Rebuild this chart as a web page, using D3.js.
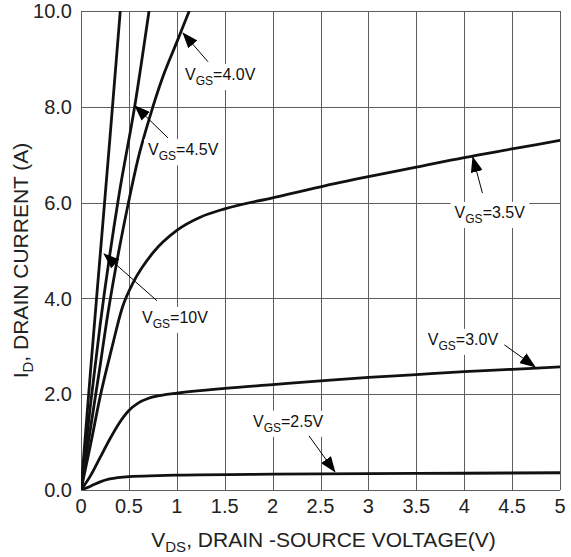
<!DOCTYPE html>
<html>
<head>
<meta charset="utf-8">
<script src="https://cdn.jsdelivr.net/npm/d3@7"></script>
<style>
  body { margin: 0; background: #fff; }
  svg { display: block; font-family: "Liberation Sans", Arial, sans-serif; }
</style>
</head>
<body>
<script>
// tick values / labels
const xTicks = [0, 0.5, 1, 1.5, 2, 2.5, 3, 3.5, 4, 4.5, 5]
const xTickLabels = ["0", "0.5", "1", "1.5", "2", "2.5", "3", "3.5", "4", "4.5", "5"]
const yTicks = [0, 2, 4, 6, 8, 10]
const yTickLabels = ["0.0", "2.0", "4.0", "6.0", "8.0", "10.0"]

// curves, [VDS, ID]
const vgs10 = [[0, 0], [0.1, 2.5], [0.2, 4.9], [0.3, 7.3], [0.41, 10]]
const vgs45 = [[0, 0], [0.1, 1.8], [0.2, 3.45], [0.4, 6.2], [0.56, 8.0], [0.71, 10]]
const vgs40 = [[0, 0], [0.1, 1.3], [0.2, 2.6], [0.27, 3.55], [0.35, 4.5], [0.48, 5.85], [0.6, 6.95],
  [0.72, 7.8], [0.85, 8.6], [1.0, 9.35], [1.13, 10]]
const vgs35 = [[0, 0], [0.1, 0.95], [0.2, 1.95], [0.32, 2.95], [0.43, 3.8], [0.55, 4.35], [0.75, 4.95],
  [1.0, 5.42], [1.25, 5.7], [1.5, 5.87], [2, 6.1], [2.5, 6.33], [3, 6.54], [3.5, 6.74],
  [4, 6.94], [4.5, 7.12], [5, 7.3]]
const vgs30 = [[0, 0], [0.1, 0.3], [0.2, 0.68], [0.3, 1.06], [0.4, 1.4], [0.5, 1.66], [0.6, 1.82],
  [0.7, 1.91], [0.85, 1.98], [1.0, 2.02], [1.5, 2.12], [2, 2.2], [2.5, 2.28], [3, 2.35],
  [3.5, 2.41], [4, 2.47], [4.5, 2.52], [5, 2.57]]
const vgs25 = [[0, 0], [0.1, 0.08], [0.2, 0.17], [0.3, 0.23], [0.5, 0.28], [0.8, 0.3], [1, 0.31],
  [2, 0.33], [3, 0.34], [4, 0.35], [5, 0.36]]
const curves = [vgs10, vgs45, vgs40, vgs35, vgs30, vgs25]

// labels: value text, text anchor point, arrow start, arrow tip (data units)
const labelNames = ["4.0V", "4.5V", "3.5V", "10V", "3.0V", "2.5V"]
const labelAt = [[1.086, 8.56], [0.70, 6.99], [3.90, 5.68], [0.637, 3.49], [3.62, 3.03], [1.795, 1.32]]
const arrowFrom = [[1.326, 8.94], [0.908, 7.35], [4.19, 6.20], [0.793, 3.95], [4.42, 3.03], [2.38, 1.13]]
const arrowTo = [[1.065, 9.54], [0.564, 8.02], [4.09, 6.95], [0.24, 4.93], [4.74, 2.57], [2.65, 0.38]]

const width = 571, height = 557
const margin = {top: 11, right: 11, bottom: 67, left: 81}

const svg = d3.select("body").append("svg")
  .attr("width", width).attr("height", height)

const x = d3.scaleLinear([0, 5], [margin.left, width - margin.right])
const y = d3.scaleLinear([0, 10], [height - margin.bottom, margin.top])

svg.append("defs").call(d => {
  d.append("clipPath").attr("id", "plot")
    .append("rect")
      .attr("x", x(0)).attr("y", y(10))
      .attr("width", x(5) - x(0)).attr("height", y(0) - y(10))
  d.append("marker")
      .attr("id", "head")
      .attr("viewBox", "0 0 16 12")
      .attr("refX", 15).attr("refY", 6)
      .attr("markerWidth", 16).attr("markerHeight", 12)
      .attr("markerUnits", "userSpaceOnUse")
      .attr("orient", "auto")
    .append("path")
      .attr("d", "M0,0L16,6L0,12Z")
      .attr("fill", "#000")
})

// grid
const grid = svg.append("g").attr("stroke", "#5e5e5e").attr("stroke-width", 1)
grid.selectAll("line.v").data(xTicks).join("line")
  .attr("class", "v")
  .attr("x1", d => Math.round(x(d)) + 0.5).attr("x2", d => Math.round(x(d)) + 0.5)
  .attr("y1", y(0)).attr("y2", y(10))
grid.selectAll("line.h").data(yTicks).join("line")
  .attr("class", "h")
  .attr("y1", d => Math.round(y(d)) + 0.5).attr("y2", d => Math.round(y(d)) + 0.5)
  .attr("x1", x(0)).attr("x2", x(5))

// tick labels
svg.append("g")
    .attr("font-size", 20).attr("fill", "#222").attr("text-anchor", "middle")
  .selectAll("text").data(xTicks).join("text")
    .attr("x", d => x(d)).attr("y", y(0) + 23)
    .text((d, i) => xTickLabels[i])
svg.append("g")
    .attr("font-size", 20).attr("fill", "#222").attr("text-anchor", "end")
  .selectAll("text").data(yTicks).join("text")
    .attr("x", x(0) - 9).attr("y", d => y(d)).attr("dy", "0.36em")
    .text((d, i) => yTickLabels[i])

// axis titles
const xt = svg.append("text")
  .attr("font-size", 21).attr("fill", "#222").attr("text-anchor", "middle")
  .attr("x", (x(0) + x(5)) / 2 + 3).attr("y", y(0) + 57)
xt.append("tspan").text("V")
xt.append("tspan").attr("font-size", 15).attr("dy", 5).text("DS")
xt.append("tspan").attr("dy", -5).text(", DRAIN -SOURCE VOLTAGE(V)")

const yt = svg.append("text")
  .attr("font-size", 21).attr("fill", "#222").attr("text-anchor", "middle")
  .attr("transform", `translate(28,${(y(0) + y(10)) / 2 + 10}) rotate(-90)`)
yt.append("tspan").text("I")
yt.append("tspan").attr("font-size", 15).attr("dy", 5).text("D")
yt.append("tspan").attr("dy", -5).text(", DRAIN CURRENT (A)")

// curves
const line = d3.line().x(d => x(d[0])).y(d => y(d[1])).curve(d3.curveMonotoneX)
svg.append("g")
    .attr("clip-path", "url(#plot)")
    .attr("fill", "none").attr("stroke", "#111").attr("stroke-width", 2.8)
    .attr("stroke-linejoin", "round").attr("stroke-linecap", "round")
  .selectAll("path").data(curves).join("path")
    .attr("d", line)

// annotations
const ann = svg.append("g")
labelNames.forEach((name, i) => {
  const g = ann.append("g")
  const t = g.append("text")
    .attr("font-size", 16).attr("fill", "#111")
    .attr("x", x(labelAt[i][0])).attr("y", y(labelAt[i][1]))
  t.append("tspan").text("V")
  t.append("tspan").attr("font-size", 12).attr("dy", 5).text("GS")
  t.append("tspan").attr("dy", -5).text("=" + name)
  const b = t.node().getBBox()
  g.insert("rect", "text")
    .attr("x", b.x - 4).attr("y", b.y - 2)
    .attr("width", b.width + 8).attr("height", b.height + 4)
    .attr("fill", "#fff")
  g.append("line")
    .attr("x1", x(arrowFrom[i][0])).attr("y1", y(arrowFrom[i][1]))
    .attr("x2", x(arrowTo[i][0])).attr("y2", y(arrowTo[i][1]))
    .attr("stroke", "#000").attr("stroke-width", 1)
    .attr("marker-end", "url(#head)")
})
</script>
</body>
</html>
